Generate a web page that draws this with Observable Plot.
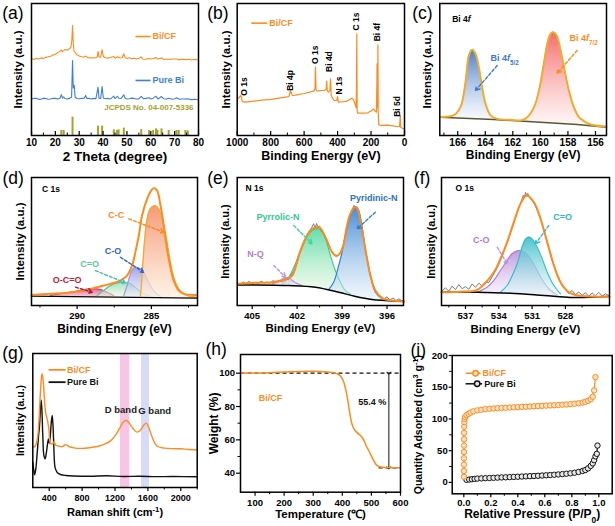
<!DOCTYPE html>
<html>
<head>
<meta charset="utf-8">
<script src="https://cdn.jsdelivr.net/npm/d3@7"></script>
<script src="https://cdn.jsdelivr.net/npm/@observablehq/plot@0.6"></script>
<style>
html,body{margin:0;padding:0;background:#fff;}
#root{position:relative;width:615px;height:526px;overflow:hidden;background:#fff;}
</style>
</head>
<body>
<div id="root"></div>
<script>
// ================= DATA =================
// (a) XRD
const aTicks = [10,20,30,40,50,60,70,80];
const aMinor = [15,25,35,45,55,65,75];
const xrdBiCF = [[10,58.3],[11,57.6],[12,58.5],[13,57.9],[14,58.8],[15,58.4],[16,59.2],[17,59.6],[18,60.1],[19,60.9],[20,61.5],[21,62.8],[22,63.9],[22.5,64.8],[23,63.6],[23.5,64.3],[24,65.1],[25,64.6],[25.5,65.4],[26,65.9],[26.5,66.8],[26.9,72],[27.2,83.3],[27.5,70],[27.8,64],[28.2,63.1],[29,61.2],[30,60.3],[31,59.7],[32,59.4],[32.8,60.2],[33.5,59],[35,58.8],[37,58.9],[37.6,59.8],[37.9,63.8],[38.3,59.5],[39,59.4],[39.6,65],[40.1,59.8],[41,58.9],[42,58.6],[43,59.1],[44.5,59.8],[45,58.5],[46,59.6],[47,58.7],[48,58.9],[48.7,61.9],[49.3,58.9],[50,58.4],[51,58.9],[52,58.2],[53,58.6],[54,58],[55,58.4],[56,59.6],[56.6,58],[58,57.8],[59,58.3],[60,58],[61,58.4],[62.2,59],[63,57.9],[64.5,58.8],[65.5,57.6],[67,58],[68,57.6],[69,57.9],[71,57.9],[72,57.3],[73,57.7],[75,57.5],[76,57.8],[77,57.2],[78,57.6],[80,57.4]];
const xrdPureBi = [[10,27.6],[11,28.1],[12,28.2],[13,27.4],[14,27.5],[15,28.3],[16,28],[17,27.5],[18,27.6],[19,28.2],[20,28.1],[21,27.7],[22,28.4],[22.5,31],[23,28.3],[23.5,29.2],[24,28],[25,27.7],[26,28.1],[26.8,29],[27.2,56.8],[27.5,36],[27.9,38],[28.3,29],[29,28],[30,27.8],[31,28.2],[32,28],[32.7,30.3],[33.2,28],[34,28.2],[35,27.7],[36,28.1],[37,27.9],[37.9,36.6],[38.3,28.3],[39,28],[39.6,37.1],[40.1,28.4],[41,27.9],[42,28.1],[43,27.6],[44.5,29.8],[45,28],[46,29.7],[46.6,28.2],[47.5,28],[48.7,30.8],[49.3,28.2],[50,27.7],[51,27.8],[52,28.3],[53,28.1],[54,27.6],[55,27.7],[56,29.6],[57,27.8],[58,28.1],[59.3,28.6],[60,27.6],[61,28.3],[62.2,29.7],[63,27.7],[64.5,29.5],[65.5,27.8],[66.5,27.6],[67.5,28.2],[69,27.5],[70,27.8],[71,28.5],[72,27.4],[73,27.7],[74,27.6],[75.5,27.9],[77,27.2],[78.5,27.4],[80,26.9]];
const jcpdsSticks = [[22.5,3.8],[23.5,3.8],[27.2,13.9],[37.9,7.1],[39.6,7.1],[44.5,4.3],[45.8,3.8],[46.5,4.3],[48.7,5.6],[56,4.5],[59.3,3.8],[61,3.8],[62.2,5],[62.8,3.8],[64.5,5],[67.5,3.8],[70.8,3.8],[71.7,3.8],[74.5,3.8],[75.5,3.5]];
const aLegend = [{label:"Bi/CF",x1:53.6,x2:59.9,y:75},{label:"Pure Bi",x1:53.6,x2:59.9,y:41.7}];
const aNote = [["JCPDS No. 04-007-5336",59.2,21]];

// (b) XPS survey
const bTicks = [1000,800,600,400,200,0];
const bMinor = [900,700,500,300,100];
const surveyBiCF = [[1000,27.8],[990,28.5],[980,30.3],[975,29],[970,26],[960,25.3],[940,25.5],[900,26],[850,26.8],[800,27.3],[750,28.3],[700,29.3],[690,29.8],[682,34.1],[678,32.8],[670,30.3],[650,30.6],[600,31.8],[560,33.1],[540,33.8],[535,35.4],[532,51.8],[529,34.6],[520,33.6],[500,34.1],[480,34.1],[468,35],[465,41.2],[462,34.1],[455,32.8],[446,34],[442,42.9],[438,30.3],[430,28.3],[420,26.5],[405,26.6],[400,29.5],[396,25.3],[380,25.4],[350,25.8],[330,27],[315,28.3],[305,27.3],[295,23.5],[289,21],[287,39.1],[285,77],[283,18.9],[280,16.9],[250,16.9],[220,17.2],[195,18.9],[185,20.2],[175,18.4],[168,17.7],[165,39.1],[164,54.3],[162,21.5],[160,26.5],[159,68.7],[157,16.4],[154,8.1],[140,7.6],[100,7.8],[60,7.1],[40,6.8],[30,6.8],[27,11.4],[25,15.2],[23,6.3],[15,5.6],[5,5.1],[0,5.1]];
const bPeakLabels = [["O 1s",960.5,37.1],["Bi 4p",681.4,41.7],["O 1s",532,61.1],["Bi 4d",448,56],["N 1s",392.7,37.9],["C 1s",286.9,86.4],["Bi 4f",163.3,78.3],["Bi 5d",43.6,22]];
const bLegend = [{label:"Bi/CF",x1:916,x2:821,y:85.1}];

// (c) Bi 4f
const cTicks = [166,164,162,160,158,156];
const cMinor = [167,165,163,161,159,157];
const cBackground = [[167.3,13.9],[163.38,12.1],[161.2,10.8],[157.33,8.3],[155.2,6.3]];
const cPeak52 = [[167.3,13.9,13.9],[166.28,15.2,13.5],[165.8,21.5,13.3],[165.56,31.6,13.2],[165.36,46.8,13.1],[165.19,60.6,13],[164.95,64.9,12.9],[164.71,61.9,12.8],[164.47,51.8,12.7],[164.23,36.6,12.6],[163.98,24,12.5],[163.62,15.2,12.3],[163.14,12.6,12.1],[162.4,11.7,11.6]];
const cPeak72 = [[161.43,11.4,10.9],[160.95,13.9,10.7],[160.46,21.5,10.4],[160.1,34.1,10.2],[159.79,51.8,10],[159.5,69.4,9.8],[159.26,77,9.7],[159.06,78.3,9.6],[158.82,75.8,9.4],[158.53,64.4,9.2],[158.29,51.8,9],[157.93,34.1,8.8],[157.57,21.5,8.5],[157.2,13.9,8.2],[156.84,10.9,7.9],[156.36,8.3,7.5],[155.6,7,6.8]];
const cEnvelope = [[167.3,14.1],[166.28,15.4],[165.8,21.5],[165.56,31.6],[165.36,46.8],[165.19,60.6],[164.95,64.9],[164.71,61.9],[164.47,51.8],[164.23,36.6],[163.98,24],[163.62,15.2],[163.14,12.6],[162.17,11.9],[161.43,11.4],[160.95,13.9],[160.46,21.5],[160.1,34.1],[159.79,51.8],[159.5,69.4],[159.26,77],[159.06,78.3],[158.82,75.8],[158.53,64.4],[158.29,51.8],[157.93,34.1],[157.57,21.5],[157.2,13.9],[156.84,10.9],[156.36,8.3],[155.2,6.8]];
const cArrows52 = [[163.13,53,164.71,34.1]];
const cArrows72 = [[157.33,64.4,158.78,47.2]];
const cLabel52 = [["Bi 4*f*_{5/2}",163.62,58.3]];
const cLabel72 = [["Bi 4*f*_{7/2}",157.89,74]];
const cTitle = [["Bi 4*f*",166.4,88.4]];

// (d) C 1s
const dTicks = [290,285];
const dMinor = [292.5,287.5,282.5];
const dBaseline = [[293.08,7.3],[281.9,5.7]];
const dEnvelope = [[293.08,8.3],[291.8,9.1],[290.67,9.9],[289.55,11.7],[288.66,14.3],[287.76,16.9],[287.09,19.5],[286.64,23.4],[286.3,31.3],[286.08,41.7],[285.85,54.7],[285.63,70.3],[285.29,83.3],[285.02,89.8],[284.84,91.7],[284.62,89.8],[284.39,78.1],[284.17,62.5],[283.95,44.3],[283.72,29.9],[283.5,19.5],[283.16,11.7],[282.82,9.1],[281.97,8.3]];
const dCC = [[285.74,7.3,6.3],[285.63,23.4,6.2],[285.47,49.5,6.2],[285.29,67.7,6.2],[285.07,75.5,6.2],[284.73,78.1,6.1],[284.51,75.5,6.1],[284.17,62.5,6],[283.95,49.5,6],[283.72,33.9,6],[283.5,22.1,5.9],[283.16,13,5.9],[282.71,8.3,5.8],[281.97,6.5,5.7]];
const dCO = [[286.86,7.8,6.4],[286.64,15.6,6.4],[286.41,24.7,6.3],[286.19,29.2,6.3],[285.96,29.9,6.3],[285.74,28.6,6.3],[285.4,23.4,6.2],[285.07,15.6,6.2],[284.73,9.9,6.1],[284.39,7.3,6.1]];
const dCdO = [[288.66,7.8,6.7],[288.21,11.7,6.6],[287.76,15.6,6.5],[287.31,17.7,6.5],[286.86,18.2,6.4],[286.41,16.9,6.3],[285.96,13,6.3],[285.52,9.1,6.2],[285.07,7.3,6.2]];
const dOCO = [[291.8,8,7.1],[290.67,9.9,7],[289.78,11.7,6.8],[289.1,13,6.7],[288.43,12.5,6.6],[287.98,10.4,6.6],[287.54,7.8,6.5]];
const dLabelCC = [["C-C",287.37,70.3]], dLabelCO = [["C-O",287.59,42.4]], dLabelCdO = [["C=O",289.16,32.6]], dLabelOCO = [["O-C=O",290.67,20]];
const dTitle = [["C 1s",292.36,90.6]];
const dArrowCC = [[286.53,67.7,284.17,57.3]], dArrowCO = [[287.09,37.7,285.52,26]], dArrowCdO = [[288.77,27.3,286.75,17.7]], dArrowOCO = [[290.11,14.3,288.99,10.4]];

// (e) N 1s
const eTicks = [405,402,399,396];
const eMinor = [403.5,400.5,397.5];
const eBaseline = [[405.96,16.1],[402.56,15.6],[400.78,14.3],[399.22,10.4],[398.16,7.3],[397,4.7],[396.11,3.9],[394.85,3.1]];
const eEnvelope = [[405.96,16.9],[404.78,17.7],[403.67,18.2],[402.78,20.3],[402.33,23.4],[401.89,39.1],[401.45,52.1],[401.11,58.6],[400.78,61.2],[400.45,60.4],[400.11,53.4],[399.67,41.7],[399.38,38.5],[399,43.7],[398.67,62.5],[398.45,71.6],[398.16,76.8],[398,76],[397.78,66.4],[397.45,44.3],[397.11,23.4],[396.78,11.7],[396.33,5.7],[395.67,3.9],[394.85,3.1]];
const ePyridinic = [[399.89,12.6,12.5],[399.56,18.2,11.5],[399.22,31.3,10.4],[399,41.7,9.7],[398.78,54.7,9],[398.45,70.3,8.1],[398.16,76.8,7.3],[397.94,75.5,6.7],[397.71,65.1,6.1],[397.45,44.3,5.5],[397.11,23.4,4.9],[396.78,10.4,4.5],[396.33,5.2,4.1]];
const ePyrrolic = [[403,16.9,15.8],[402.56,22.1,15.6],[402.11,32.6,15.2],[401.67,45.6,14.9],[401.22,56,14.6],[400.78,59.9,14.3],[400.45,59.4,13.5],[400.11,52.1,12.8],[399.78,39.1,12.1],[399.45,27.3,11.2],[399.11,18.2,10],[398.78,11.7,9],[398.45,9.1,8.1]];
const eNQ = [[403.67,16.9,16],[403.22,18.8,15.8],[402.78,22.1,15.7],[402.45,20.8,15.5],[402.11,17.7,15.2],[401.67,15.6,14.9]];
const eRaw = [[406,17.5],[405.8,16.2],[405.6,18.4],[405.4,17],[405.2,18.9],[405,16.8],[404.8,18.1],[404.6,17.2],[404.4,19],[404.2,17.6],[404,18.3],[403.8,17.4],[403.6,19.5],[403.4,18.1],[403.2,19.8],[403,18.6],[402.8,21.2],[402.6,20.1],[402.4,23.8],[402.2,27.5],[402,33.4],[401.8,41.8],[401.6,47.2],[401.4,54.1],[401.2,57.8],[401,61.4],[400.9,63.9],[400.8,60.5],[400.7,64.1],[400.6,60.9],[400.5,62.2],[400.4,58.3],[400.3,57.1],[400.1,53.8],[399.9,47.9],[399.7,42.6],[399.5,39.7],[399.3,38.9],[399.1,41.5],[398.9,48.2],[398.7,60.3],[398.5,70.1],[398.3,75.4],[398.2,78.2],[398.1,76.3],[398,77.1],[397.8,67.2],[397.6,55.1],[397.4,41.3],[397.2,28.8],[397,18.2],[396.8,12.5],[396.6,8.4],[396.4,6.9],[396.2,5.1],[396,6.8],[395.8,4.2],[395.6,5.9],[395.4,3.9],[395.2,5.2],[395,3.6],[394.9,4.4]];
const eLabelPyd = [["Pyridinic-N",396.89,83.8]], eLabelPyr = [["Pyrrolic-N",403.28,69]], eLabelNQ = [["N-Q",404.78,39.8]];
const eTitle = [["N 1s",405.45,91.6]];
const eArrowPyd = [[396.78,72.9,398,59.9]], eArrowPyr = [[402.23,62.5,401,48.2]], eArrowNQ = [[403.56,31.3,402.78,22.1]];

// (f) O 1s
const fTicks = [537,534,531,528];
const fMinor = [538.5,535.5,532.5,529.5,526.5];
const fBaseline = [[539.16,10.4],[535.95,10.4],[532.95,9.6],[529.94,7.8],[527.54,6.3],[526.34,6.3],[524.03,7]];
const fEnvelope = [[539.16,10.4],[537.45,10.8],[535.95,12.2],[534.45,26],[533.85,36.5],[533.25,49.5],[532.65,65.1],[532.05,79.4],[531.51,85.9],[530.84,80.7],[530.24,67.7],[529.64,49.5],[529.04,31.3],[528.44,18.2],[527.69,10.4],[526.94,7.8],[524.03,7]];
const fCdO = [[533.85,10.4,9.9],[533.25,15.6,9.7],[532.65,26,9.5],[532.35,32.6,9.4],[531.9,45.6,9.2],[531.6,51.6,9],[531.3,53.4,8.8],[531,52.1,8.6],[530.54,45.6,8.3],[530.09,36.5,8],[529.64,26,7.6],[529.04,15.6,7.1],[528.44,9.1,6.7]];
const fCO = [[535.95,10.4,10.4],[535.05,14.3,10.2],[534.45,19.5,10.1],[533.85,27.3,9.9],[533.25,35.2,9.7],[532.8,40.4,9.6],[532.2,43,9.3],[531.6,41.1,9],[531.14,36.5,8.7],[530.54,27.3,8.3],[529.94,18.2,7.8],[529.34,11.7,7.3],[528.74,8.3,6.9]];
const fRaw = [[539.1,11.5],[538.8,13.8],[538.5,11.2],[538.2,15.1],[537.9,12.4],[537.6,16.3],[537.3,13.1],[537,14.8],[536.7,12.6],[536.4,16.9],[536.1,14.2],[535.8,17.4],[535.5,15.3],[535.2,18.6],[534.9,17.9],[534.6,22.4],[534.3,26.8],[534,32.1],[533.7,38.5],[533.4,45.9],[533.1,52.7],[532.8,60.3],[532.5,68.8],[532.2,76.2],[532,80.5],[531.8,86.1],[531.7,84.2],[531.6,88.3],[531.5,85.4],[531.4,87.6],[531.2,83.9],[531,82.1],[530.8,79.3],[530.6,75.8],[530.4,71.2],[530.2,66.9],[530,60.4],[529.8,55.1],[529.6,48.3],[529.4,42.7],[529.2,36.1],[529,30.8],[528.8,25.2],[528.6,21.9],[528.4,16.8],[528.2,14.1],[528,12.6],[527.7,9.3],[527.4,11.8],[527.1,8.4],[526.8,10.6],[526.5,7.9],[526.2,10.1],[525.9,7.2],[525.6,9.8],[525.3,7.6],[525,10.3],[524.7,7.4],[524.4,9.1],[524.1,7.8]];
const fLabelCdO = [["C=O",528.26,69]], fLabelCO = [["C-O",535.58,50.8]];
const fTitle = [["O 1s",537.9,91.2]];
const fArrowCdO = [[529.5,62.5,530.69,48.2]], fArrowCO = [[534.14,45.5,533.24,32.6]];

// (g) Raman
const gTicks = [400,800,1200,1600,2000];
const gMinor = [600,1000,1400,1800,2200];
const ramanBiCF = [[200,30],[230,31],[255,36],[275,50],[290,68],[305,82],[314,85],[325,80],[342,66],[355,56],[375,51],[395,44],[415,33],[440,32.5],[458,34],[480,31.5],[520,30.8],[560,30.5],[600,32],[640,30.6],[700,29.6],[800,29.2],[900,29.8],[1000,30.8],[1080,32.5],[1150,35],[1200,38.5],[1250,43.5],[1300,48.8],[1340,50],[1380,47.5],[1420,44],[1470,41.3],[1510,42.8],[1550,46.5],[1580,48],[1610,45],[1640,39.5],[1680,33.5],[1720,30.6],[1800,29.4],[1900,29],[2000,28.9],[2100,28.4],[2200,28.2]];
const ramanPureBi = [[200,19],[212,13],[222,9.5],[235,13],[255,27],[272,40],[282,46],[292,58],[302,65.4],[312,56],[322,38],[335,24],[350,21.4],[365,26],[380,33],[390,36.3],[400,33],[412,38],[424,48],[436,53.7],[446,46],[456,30],[466,17],[476,13.9],[500,11],[537,9.7],[600,9],[700,8.6],[900,8.4],[1100,8.8],[1300,8.2],[1500,8.4],[1700,8.1],[1900,8.2],[2200,8]];
const gBands = [[1267,1380],[1522,1620]];
const gBandLabels = [["D band",1271,58],["G band",1683,57]];
const gLegend = [{label:"Bi/CF",x1:392,x2:599,y:87.8},{label:"Pure Bi",x1:392,x2:599,y:78.6}];

// (h) TGA
const hXTicks = [100,200,300,400,500,600];
const hXMinor = [150,250,350,450,550];
const hYTicks = [40,60,80,100];
const hYMinor = [50,70,90];
const tgaBiCF = [[50,100],[100,100.1],[150,100.3],[200,100.7],[250,101],[300,101.2],[340,100.9],[370,100.3],[385,99.5],[395,98],[403,95.6],[410,91.5],[417,85.6],[423,79],[428,73.6],[434,69],[440,66.6],[450,64.5],[460,63],[468,61.6],[476,59],[484,55.7],[491,53.6],[500,50.2],[508,47.6],[516,45.2],[525,44],[540,43.5],[560,43.3],[600,43.2]];
const hGuides = [[50,600,100],[525,600,43.2]];
const hSpan = [[560,100,43.2]];
const hLossLabel = [["55.4 %",503,82.6]];
const hSeriesLabel = [["Bi/CF",113,85.2]];

// (i) BET
const iXTicks = [0,0.2,0.4,0.6,0.8,1.0];
const iXMinor = [0.1,0.3,0.5,0.7,0.9];
const iYTicks = [0,50,100,150,200];
const iYMinor = [25,75,125,175];
const betBiCF = [[0.001,9],[0.001,18],[0.001,28],[0.001,38],[0.001,48],[0.002,58],[0.002,68],[0.002,78],[0.003,88],[0.004,95],[0.006,100],[0.01,103],[0.02,106],[0.035,108],[0.05,110],[0.07,112],[0.1,113.5],[0.13,114.5],[0.16,115.5],[0.19,116],[0.22,116.5],[0.25,117],[0.28,117.3],[0.31,117.6],[0.34,118],[0.37,118.3],[0.4,118.6],[0.43,119],[0.46,119.3],[0.49,119.6],[0.52,120],[0.55,120.3],[0.58,120.6],[0.61,121],[0.64,121.3],[0.67,121.6],[0.7,122],[0.73,122.4],[0.76,122.8],[0.79,123.3],[0.82,124],[0.85,124.8],[0.88,125.8],[0.9,127],[0.92,128.5],[0.94,131],[0.955,135],[0.965,145],[0.975,166]];
const betPureBi = [[0.02,4],[0.04,4.5],[0.06,5],[0.08,5.5],[0.1,6],[0.13,6.3],[0.16,6.6],[0.19,6.9],[0.22,7.2],[0.25,7.5],[0.28,7.8],[0.31,8],[0.34,8.3],[0.37,8.6],[0.4,8.9],[0.43,9.2],[0.46,9.5],[0.49,9.8],[0.52,10.1],[0.55,10.4],[0.58,10.8],[0.61,11.2],[0.64,11.6],[0.67,12],[0.7,12.5],[0.73,13],[0.76,13.6],[0.79,14.3],[0.82,15.2],[0.85,16.4],[0.88,18],[0.9,19.5],[0.92,22],[0.94,26],[0.955,30],[0.965,35],[0.975,41],[0.985,45],[0.99,58]];
const iLegend = [{label:"Bi/CF",x1:0.013,x2:0.124,xm:0.087,y:172},{label:"Pure Bi",x1:0.013,x2:0.136,xm:0.099,y:155.4}];
const iXLeft = -0.086;

// ================= RENDERING =================
const ORANGE = "#ff8a1d", BLUE = "#3b7fd8", OLIVE = "#a3a32a", GOLD = "#f0ac2c";
const FONT = "'Liberation Sans', Arial, Helvetica, sans-serif";
const root = document.getElementById("root");

function rich(svg) {
  svg.querySelectorAll("text").forEach(t => {
    if (t.children.length) return;
    const s = t.textContent;
    if (!/[_^*]/.test(s)) return;
    t.innerHTML = s.replace(/&/g,"&amp;").replace(/</g,"&lt;")
      .replace(/\*([^*]+)\*/g,'<tspan font-style="italic">$1</tspan>')
      .replace(/_\{([^}]*)\}/g,'<tspan font-size="70%" baseline-shift="sub">$1</tspan>')
      .replace(/\^\{([^}]*)\}/g,'<tspan font-size="70%" baseline-shift="super">$1</tspan>');
  });
}
function grads(list) {
  return () => {
    const ns = "http://www.w3.org/2000/svg";
    const defs = document.createElementNS(ns, "defs");
    for (const [id, c1, c2, o1, o2] of list) {
      const g = document.createElementNS(ns, "linearGradient");
      g.setAttribute("id", id); g.setAttribute("x1", "0"); g.setAttribute("y1", "0"); g.setAttribute("x2", "0"); g.setAttribute("y2", "1");
      for (const [off, c, o] of [[0, c1, o1], [1, c2, o2]]) {
        const s = document.createElementNS(ns, "stop");
        s.setAttribute("offset", off); s.setAttribute("stop-color", c); s.setAttribute("stop-opacity", o);
        g.appendChild(s);
      }
      defs.appendChild(g);
    }
    return defs;
  };
}
function xAxisMarks(ticks, minor, {inward = false, innerH = 0, pad = 3, fmt = d => String(d)} = {}) {
  const m = [Plot.axisX({ticks, anchor: "bottom", tickSize: inward ? 0 : 4, tickPadding: pad, tickFormat: fmt, label: null, strokeWidth: 1.2})];
  if (inward) {
    m.push(Plot.tickX(ticks, {insetTop: innerH - 4, stroke: "black", strokeWidth: 1.2}));
    if (minor) m.push(Plot.tickX(minor, {insetTop: innerH - 2.5, stroke: "black", strokeWidth: 1}));
  } else if (minor) {
    m.push(Plot.tickX(minor, {insetTop: innerH, insetBottom: -2.5, stroke: "black", strokeWidth: 1}));
  }
  return m;
}
function yAxisMarks(ticks, minor, {size = 4, pad = 1.5, innerW = 0, fs = 9.5, xLeft = null} = {}) {
  const textOpts = {y: d => d, text: d => String(d), dx: -(size + pad), textAnchor: "end", lineAnchor: "middle", fontSize: fs, fill: "black"};
  if (xLeft === null) textOpts.frameAnchor = "left"; else textOpts.x = () => xLeft;
  return [
    Plot.tickY(ticks, {insetRight: innerW, insetLeft: -size, stroke: "black", strokeWidth: 1.2}),
    Plot.tickY(minor, {insetRight: innerW, insetLeft: -2.5, stroke: "black", strokeWidth: 1}),
    Plot.text(ticks, textOpts)
  ];
}
const frame = () => Plot.frame({stroke: "black", strokeWidth: 1.5});
const xTitle = (t, dy, fs) => Plot.text([t], {frameAnchor: "bottom", dy, fontSize: fs, fill: "black", textAnchor: "middle", lineAnchor: "middle"});
const yTitle = (t, dx, fs) => Plot.text([t], {frameAnchor: "left", dx, rotate: -90, fontSize: fs, fill: "black", textAnchor: "middle", lineAnchor: "middle"});
const letter = (t, dx, dy) => Plot.text([t], {frameAnchor: "top-left", dx, dy, textAnchor: "start", lineAnchor: "middle", fontSize: 17.5, fontWeight: "normal", fill: "black"});
const lbl = (arr, fill, o = {}) => Plot.text(arr, {x: d => d[1], y: d => d[2], text: d => d[0], fill, fontSize: 9, ...o});
const arrow = (arr, stroke) => Plot.arrow(arr, {x1: d => d[0], y1: d => d[1], x2: d => d[2], y2: d => d[3], stroke, strokeWidth: 1.4, strokeDasharray: "3,2", headLength: 5});
const comp = (data, grad, stroke, sw = 1.1) => [
  Plot.areaY(data, {x: d => d[0], y1: d => d[2], y2: d => d[1], fill: `url(#${grad})`, curve: "catmull-rom"}),
  Plot.line(data, {x: d => d[0], y: d => d[1], stroke, strokeWidth: sw, curve: "catmull-rom"})
];
const line = (data, stroke, sw = 1.2, curve = "linear") => Plot.line(data, {x: d => d[0], y: d => d[1], stroke, strokeWidth: sw, curve});

function panel(o) {
  const svg = Plot.plot({
    width: o.W, height: o.H,
    marginLeft: o.mL, marginRight: o.mR, marginTop: o.mT, marginBottom: o.mB,
    x: {domain: o.xd},
    y: {domain: o.yd, axis: null},
    marks: o.marks
  });
  Object.assign(svg.style, {position: "absolute", left: o.left + "px", top: o.top + "px", overflow: "visible",
    fontFamily: FONT, fontWeight: "bold", fontSize: o.fs + "px", background: "transparent", maxWidth: "none"});
  rich(svg);
  root.appendChild(svg);
}

// ---- (a) ----
panel({left: 0, top: 0, W: 205, H: 175, mL: 31, mR: 7, mT: 3, mB: 40, xd: [10, 80], yd: [0, 100], fs: 10,
  marks: [
    Plot.ruleX(jcpdsSticks, {x: d => d[0], y1: d => 0, y2: d => d[1], stroke: OLIVE, strokeWidth: 2}),
    line(xrdPureBi, BLUE, 1.1),
    line(xrdBiCF, ORANGE, 1.1),
    Plot.link([aLegend[0]], {x1: "x1", x2: "x2", y1: "y", y2: "y", stroke: ORANGE, strokeWidth: 1.6}),
    Plot.link([aLegend[1]], {x1: "x1", x2: "x2", y1: "y", y2: "y", stroke: BLUE, strokeWidth: 1.6}),
    Plot.text([aLegend[0]], {x: "x2", y: "y", text: "label", dx: 2, textAnchor: "start", fill: ORANGE, fontSize: 9}),
    Plot.text([aLegend[1]], {x: "x2", y: "y", text: "label", dx: 2, textAnchor: "start", fill: BLUE, fontSize: 9}),
    lbl(aNote, OLIVE, {fontSize: 8}),
    ...xAxisMarks(aTicks, aMinor, {inward: true, innerH: 132, pad: 3}),
    frame(),
    xTitle("2 Theta (degree)", 21, 13.5),
    yTitle("Intensity (a.u.)", -13, 11.5),
    letter("(a)", -29.3, 9.5)
  ]});

// ---- (b) ----
panel({left: 205, top: 0, W: 205, H: 175, mL: 31.7, mR: 6, mT: 3, mB: 40, xd: [1000, 0], yd: [0, 100], fs: 10,
  marks: [
    line(surveyBiCF, ORANGE, 1.2),
    lbl(bPeakLabels, "black", {rotate: -90, fontSize: 8.5}),
    Plot.link(bLegend, {x1: "x1", x2: "x2", y1: "y", y2: "y", stroke: ORANGE, strokeWidth: 1.6}),
    Plot.text(bLegend, {x: "x2", y: "y", text: "label", dx: 2, textAnchor: "start", fill: ORANGE, fontSize: 9}),
    ...xAxisMarks(bTicks, bMinor, {inward: true, innerH: 132, pad: 3}),
    frame(),
    xTitle("Binding Energy (eV)", 20, 12.5),
    yTitle("Intensity (a.u.)", -10.5, 11.5),
    letter("(b)", -30, 9.5)
  ]});

// ---- (c) ----
panel({left: 410, top: 0, W: 205, H: 175, mL: 29.3, mR: 9, mT: 3, mB: 40, xd: [167.3, 155.2], yd: [0, 100], fs: 10,
  marks: [
    grads([["gc52", "#3f78c8", "#f4f6fc", 0.95, 0.6], ["gc72", "#f25a5a", "#fff2f2", 0.9, 0.6]]),
    ...comp(cPeak52, "gc52", GOLD, 0.8),
    ...comp(cPeak72, "gc72", GOLD, 0.8),
    line(cBackground, "#5e5434", 1.5),
    line(cEnvelope, GOLD, 2, "catmull-rom"),
    arrow(cArrows52, "#3a78d0"),
    arrow(cArrows72, ORANGE),
    lbl(cLabel52, "#3a78d0", {textAnchor: "start"}),
    lbl(cLabel72, ORANGE, {textAnchor: "start"}),
    lbl(cTitle, "black", {textAnchor: "start", fontSize: 8.5}),
    ...xAxisMarks(cTicks, cMinor, {inward: true, innerH: 132, pad: 3}),
    frame(),
    xTitle("Binding Energy (eV)", 20, 12),
    yTitle("Intensity (a.u.)", -12, 11.5),
    letter("(c)", -27.6, 9.5)
  ]});

// ---- (d) ----
panel({left: 0, top: 175, W: 205, H: 175, mL: 31, mR: 8, mT: 2, mB: 45, xd: [293.07, 281.9], yd: [0, 100], fs: 9.5,
  marks: [
    grads([["gdcc", "#f5875e", "#fdeedc", 0.85, 0.7], ["gdco", "#8a8ae0", "#e6e6fa", 0.8, 0.5], ["gdcdo", "#74d6ad", "#f0f8d8", 0.75, 0.5], ["gdoco", "#e0407a", "#f6b8cc", 0.85, 0.7]]),
    ...comp(dOCO, "gdoco", "#d84070"),
    ...comp(dCdO, "gdcdo", "#58c0a0"),
    ...comp(dCO, "gdco", "#9a9ad8"),
    ...comp(dCC, "gdcc", GOLD, 1.3),
    line(dBaseline, "black", 1.3),
    line(dEnvelope, ORANGE, 2, "catmull-rom"),
    arrow(dArrowCC, ORANGE), arrow(dArrowCO, "#2a64c8"), arrow(dArrowCdO, "#4cbcb0"), arrow(dArrowOCO, "#a01838"),
    lbl(dLabelCC, ORANGE), lbl(dLabelCO, "#2a64c8"), lbl(dLabelCdO, "#5cc8a0"), lbl(dLabelOCO, "#c0203a"),
    lbl(dTitle, "black", {textAnchor: "start", fontSize: 8.5}),
    ...xAxisMarks(dTicks, dMinor, {pad: 3, innerH: 128}),
    frame(),
    xTitle("Binding Energy (eV)", 24, 12),
    yTitle("Intensity (a.u.)", -11, 11.5),
    letter("(d)", -29, 0.5)
  ]});

// ---- (e) ----
panel({left: 205, top: 175, W: 205, H: 175, mL: 31.7, mR: 7, mT: 2, mB: 45, xd: [406, 394.9], yd: [0, 100], fs: 9.5,
  marks: [
    grads([["gepyd", "#2f7fd0", "#e2eefa", 0.9, 0.5], ["gepyr", "#3ed496", "#eef8e0", 0.8, 0.5], ["genq", "#c4a4e6", "#f2eaf8", 0.8, 0.5]]),
    ...comp(ePyrrolic, "gepyr", "#2ec88a"),
    ...comp(eNQ, "genq", "#b890d8"),
    ...comp(ePyridinic, "gepyd", "#2f7fd0"),
    line(eRaw, "#7a7a7a", 1),
    line(eBaseline, "black", 1.5, "catmull-rom"),
    line(eEnvelope, ORANGE, 2, "catmull-rom"),
    arrow(eArrowPyd, "#2f7fd0"), arrow(eArrowPyr, "#3ed496"), arrow(eArrowNQ, "#c090d8"),
    lbl(eLabelPyd, "#2a70c8"), lbl(eLabelPyr, "#30c890"), lbl(eLabelNQ, "#b080d0"),
    lbl(eTitle, "black", {textAnchor: "start", fontSize: 8.5}),
    ...xAxisMarks(eTicks, eMinor, {pad: 3, innerH: 128}),
    frame(),
    xTitle("Binding Energy (eV)", 22.7, 11.5),
    yTitle("Intensity (a.u.)", -11.5, 11),
    letter("(e)", -30, 0.5)
  ]});

// ---- (f) ----
panel({left: 410, top: 175, W: 205, H: 175, mL: 31, mR: 6, mT: 2, mB: 45, xd: [539.16, 524.03], yd: [0, 100], fs: 9.5,
  marks: [
    grads([["gfcdo", "#36bcc8", "#e4f6f8", 0.9, 0.5], ["gfco", "#b080d8", "#f2e8fa", 0.8, 0.5]]),
    ...comp(fCO, "gfco", "#b080d0"),
    ...comp(fCdO, "gfcdo", "#38b8c8"),
    line(fRaw, "#7a7a7a", 1),
    line(fBaseline, "black", 1.5, "catmull-rom"),
    line(fEnvelope, ORANGE, 2, "catmull-rom"),
    arrow(fArrowCdO, "#38b8c8"), arrow(fArrowCO, "#c090d8"),
    lbl(fLabelCdO, "#2fb5c5"), lbl(fLabelCO, "#b07ad0"),
    lbl(fTitle, "black", {textAnchor: "start", fontSize: 8.5}),
    ...xAxisMarks(fTicks, fMinor, {pad: 3, innerH: 128}),
    frame(),
    xTitle("Binding Energy (eV)", 24, 11.5),
    yTitle("Intensity (a.u.)", -10.5, 11),
    letter("(f)", -27.7, 0.5)
  ]});

// ---- (g) ----
panel({left: 0, top: 350, W: 205, H: 176, mL: 32.3, mR: 8.3, mT: 3, mB: 39, xd: [200, 2200], yd: [0, 100], fs: 9,
  marks: [
    Plot.rect([gBands[0]], {x1: d => d[0], x2: d => d[1], fill: "#f4a6d6", fillOpacity: 0.65}),
    Plot.rect([gBands[1]], {x1: d => d[0], x2: d => d[1], fill: "#c4ccf4", fillOpacity: 0.7}),
    line(ramanPureBi, "#111", 1.4, "catmull-rom"),
    line(ramanBiCF, ORANGE, 1.4, "catmull-rom"),
    Plot.link([gLegend[0]], {x1: "x1", x2: "x2", y1: "y", y2: "y", stroke: ORANGE, strokeWidth: 1.8}),
    Plot.link([gLegend[1]], {x1: "x1", x2: "x2", y1: "y", y2: "y", stroke: "#111", strokeWidth: 1.8}),
    Plot.text([gLegend[0]], {x: "x2", y: "y", text: "label", dx: 1.5, textAnchor: "start", fill: ORANGE, fontSize: 9}),
    Plot.text([gLegend[1]], {x: "x2", y: "y", text: "label", dx: 1.5, textAnchor: "start", fill: "#111", fontSize: 9}),
    lbl(gBandLabels, "#222", {fontSize: 9.5}),
    ...xAxisMarks(gTicks, gMinor, {pad: 2.7, innerH: 134}),
    frame(),
    xTitle("Raman shift (cm^{-1})", 25, 11),
    yTitle("Intensity (a.u.)", -12, 10.5),
    letter("(g)", -30.6, -0.5)
  ]});

// ---- (h) ----
panel({left: 205, top: 350, W: 205, H: 176, mL: 35, mR: 10, mT: 4, mB: 34.3, xd: [50, 600], yd: [28.6, 111.2], fs: 9.5,
  marks: [
    Plot.link(hGuides, {x1: d => d[0], x2: d => d[1], y1: d => d[2], y2: d => d[2], stroke: "#111", strokeWidth: 1.3, strokeDasharray: "4,3"}),
    Plot.link(hSpan, {x1: d => d[0], x2: d => d[0], y1: d => d[1], y2: d => d[2], stroke: "#111", strokeWidth: 1, markerStart: "arrow", markerEnd: "arrow"}),
    line(tgaBiCF, ORANGE, 1.5, "catmull-rom"),
    lbl(hLossLabel, "#111", {fontSize: 9}),
    lbl(hSeriesLabel, ORANGE, {textAnchor: "start", fontSize: 9}),
    ...xAxisMarks(hXTicks, hXMinor, {pad: 3, innerH: 137.7}),
    ...yAxisMarks(hYTicks, hYMinor, {size: 4, pad: 1.5, innerW: 160, fs: 9.5}),
    frame(),
    xTitle("Temperature (℃)", 22, 11.5),
    yTitle("Weight (%)", -26.7, 12),
    letter("(h)", -35, -5)
  ]});

// ---- (i) ----
panel({left: 410, top: 350, W: 205, H: 176, mL: 41.7, mR: 3.3, mT: 5, mB: 32.7, xd: [iXLeft, 1.099], yd: [-18, 200], fs: 9.5,
  marks: [
    Plot.line(betPureBi, {x: d => d[0], y: d => d[1], stroke: "#111", strokeWidth: 1.2}),
    Plot.dot(betPureBi, {x: d => d[0], y: d => d[1], r: 2.7, stroke: "#111", fill: "#e8e8e8", strokeWidth: 1}),
    Plot.line(betBiCF, {x: d => d[0], y: d => d[1], stroke: ORANGE, strokeWidth: 1.2}),
    Plot.dot(betBiCF, {x: d => d[0], y: d => d[1], r: 2.7, stroke: ORANGE, fill: "#ffe3c4", strokeWidth: 1}),
    Plot.link([iLegend[0]], {x1: "x1", x2: "x2", y1: "y", y2: "y", stroke: ORANGE, strokeWidth: 1.5}),
    Plot.dot([iLegend[0]], {x: "xm", y: "y", r: 2.7, stroke: ORANGE, fill: "#ffe3c4"}),
    Plot.link([iLegend[1]], {x1: "x1", x2: "x2", y1: "y", y2: "y", stroke: "#111", strokeWidth: 1.5}),
    Plot.dot([iLegend[1]], {x: "xm", y: "y", r: 2.7, stroke: "#111", fill: "#e8e8e8"}),
    Plot.text([iLegend[0]], {x: "x2", y: "y", text: "label", dx: 2, textAnchor: "start", fill: ORANGE, fontSize: 9}),
    Plot.text([iLegend[1]], {x: "x2", y: "y", text: "label", dx: 2, textAnchor: "start", fill: "#111", fontSize: 9}),
    ...xAxisMarks(iXTicks, iXMinor, {pad: 1.5, fmt: d3.format(".1f"), innerH: 138.3}),
    ...yAxisMarks(iYTicks, iYMinor, {size: 3, pad: 1.5, innerW: 160, fs: 9.5, xLeft: iXLeft}),
    frame(),
    xTitle("Relative Pressure (P/P_{0})", 20.7, 12),
    yTitle("Quantity Adsorbed (cm^{3} g^{-1})", -33.3, 10.5),
    letter("(i)", -41.7, -5)
  ]});
</script>
</body>
</html>
